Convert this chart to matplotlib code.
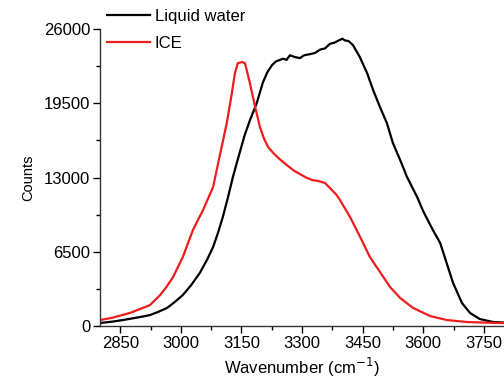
import matplotlib
matplotlib.use("Agg")
import matplotlib.pyplot as plt

plt.rcParams['font.family'] = ['Liberation Sans', 'DejaVu Sans']

# Liquid water spectrum (wavenumber, counts)
water_x = [2800, 2830, 2860, 2900, 2924, 2945, 2966, 2985, 3005, 3025, 3047, 3065,
           3080, 3092, 3104, 3117, 3129, 3138, 3146, 3158, 3171, 3188, 3203, 3214,
           3226, 3235, 3245, 3253, 3262, 3270, 3282, 3295, 3305, 3320, 3332, 3345,
           3357, 3369, 3380, 3394, 3400, 3406, 3415, 3426, 3443, 3461, 3476, 3493,
           3510, 3525, 3543, 3560, 3585, 3600, 3624, 3642, 3658, 3674, 3696, 3716,
           3740, 3773, 3800]
water_y = [260, 380, 540, 790, 960, 1250, 1580, 2100, 2710, 3550, 4640, 5800,
           6920, 8150, 9540, 11300, 13040, 14200, 15200, 16700, 18000, 19520, 21300, 22200,
           22850, 23150, 23290, 23400, 23300, 23700, 23550, 23450, 23700, 23800, 23900, 24200,
           24300, 24700, 24800, 25050, 25150, 25000, 24950, 24600, 23550, 22150, 20660, 19170,
           17770, 16020, 14530, 13040, 11290, 10050, 8400, 7270, 5520, 3760, 2010, 1140,
           610, 350, 300]

# ICE spectrum (wavenumber, counts)
ice_x = [2800, 2830, 2874, 2906, 2924, 2949, 2965, 2981, 3005, 3030, 3055, 3080,
         3097, 3114, 3126, 3134, 3141, 3151, 3159, 3171, 3184, 3196, 3206,
         3216, 3230, 3245, 3262, 3280, 3295, 3310, 3325, 3340, 3357, 3374, 3385,
         3394, 3419, 3444, 3468, 3493, 3518, 3543, 3575, 3617, 3658, 3708, 3760, 3800]
ice_y = [520, 720, 1140, 1580, 1840, 2710, 3450, 4290, 6040, 8400, 10150, 12170,
         15000, 17800, 20300, 22150, 23000, 23110, 23000, 21270, 19170, 17420, 16400,
         15670, 15100, 14600, 14100, 13600, 13300, 13000, 12780, 12700, 12520, 11900, 11500,
         11030, 9540, 7790, 6040, 4730, 3410, 2450, 1580, 875, 525, 350, 290, 260]

x_ticks = [2850, 3000, 3150, 3300, 3450, 3600, 3750]
y_ticks = [0, 6500, 13000, 19500, 26000]

fig = plt.figure(figsize=(5.04, 3.82), dpi=100)
ax = fig.add_axes([100/504, 1 - 326/382, 404/504, (326 - 29)/382])

l1, = ax.plot(water_x, water_y, color='black', lw=1.6, label='Liquid water')
l2, = ax.plot(ice_x, ice_y, color='#ee1c1c', lw=1.6, label='ICE')

ax.set_xlim(2800, 3800)
ax.set_ylim(0, 26000)
ax.set_xticks(x_ticks)
ax.set_yticks(y_ticks)
ax.set_xticks([2925, 3075, 3225, 3375, 3525, 3675], minor=True)
ax.set_yticks([3250, 9750, 16250, 22750], minor=True)
ax.tick_params(which='major', direction='out', length=5, width=1, labelsize=12, pad=2)
ax.tick_params(which='minor', direction='out', length=3, width=1)
for s in ['top', 'right']:
    ax.spines[s].set_visible(False)
for s in ['left', 'bottom']:
    ax.spines[s].set_linewidth(1.0)
    ax.spines[s].set_color('#333333')

ax.set_xlabel('Wavenumber (cm$^{-1}$)', fontsize=12, labelpad=4)
ax.set_ylabel('Counts', fontsize=10.5, labelpad=6)

fig.legend(handles=[l1, l2], loc='upper left', bbox_to_anchor=(100/504, 0.995),
           frameon=False, fontsize=12, handlelength=2.6, handletextpad=0.3,
           labelspacing=0.72, borderaxespad=0)

fig.savefig('out.png', dpi=100)
